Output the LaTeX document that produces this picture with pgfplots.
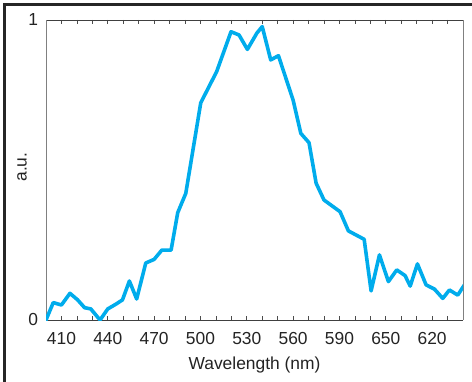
\documentclass[border=0pt]{standalone}
\usepackage{pgfplots}
\pgfplotsset{compat=1.18}
\usepackage{fontspec}
\setmainfont{Liberation Sans}
\definecolor{specblue}{RGB}{0,172,236}
\definecolor{axgray}{RGB}{128,128,128}
\definecolor{txt}{RGB}{35,35,35}
\begin{document}
\begin{tikzpicture}
\fontsize{17.4bp}{20bp}\selectfont
\begin{axis}[
  at={(0,0)}, anchor=origin,
  scale only axis, width=417bp, height=300bp,
  xmin=400, xmax=670, ymin=0, ymax=1,
  separate axis lines,
  x axis line style={draw=black!75, line width=0.9bp},
  y axis line style={draw=axgray, line width=0.9bp},
  xtick={410,420,...,660},
  xticklabels={410,,,440,,,470,,,500,,,530,,,560,,,590,,,650,,,620,,},
  xtick pos=both,
  xtick style={draw=black!70, line width=0.7bp},
  major tick length=4bp,
  ytick={0,1}, yticklabels={0,1},
  ytick style={draw=none},
  /pgf/number format/assume math mode=true,
  tick label style={font=\fontsize{17.4bp}{20bp}\selectfont, text=txt},
  xticklabel style={anchor=center, yshift=-19bp},
  yticklabel style={anchor=east, xshift=-2bp},
  xlabel={Wavelength (nm)},
  ylabel={a.u.},
  label style={font=\fontsize{17.4bp}{20bp}\selectfont, text=txt},
  xlabel style={at={(axis description cs:0.5,-0.15)}, anchor=center},
  ylabel style={at={(axis description cs:-0.0576,0.51)}, anchor=center},
  clip=true,
]
\addplot[specblue, line width=3.6bp, line join=round, line cap=round] coordinates {
(400,0.0) (404.7,0.058) (410,0.05) (415.5,0.089) (420.5,0.067) (425,0.041)
(429,0.037) (435,0.0) (440,0.037) (445,0.052) (449.5,0.067) (454,0.13)
(458.7,0.07) (464.6,0.19) (470,0.202) (475,0.233) (481,0.233) (485.3,0.358)
(490.5,0.422) (500.2,0.724) (510.5,0.828) (519.8,0.961) (525,0.95) (530.4,0.902)
(536.5,0.956) (540,0.978) (545.5,0.867) (550.5,0.881) (560,0.733) (565,0.622)
(570.3,0.591) (574.9,0.456) (580,0.40) (590.4,0.361) (595.8,0.297) (606,0.269)
(610.5,0.097) (615.9,0.217) (621.7,0.128) (627.1,0.167) (632.5,0.148) (635.8,0.113)
(640.5,0.187) (646.1,0.117) (651.5,0.103) (656.9,0.072) (661.2,0.10) (666.6,0.083)
(670.9,0.117)
};
\end{axis}
\useasboundingbox (-46bp,-62bp) rectangle (426bp,320bp);
\draw[black!85, line width=2.2bp] (-41.5bp,-62bp) -- (-41.5bp,315.5bp) -- (426bp,315.5bp);
\end{tikzpicture}
\end{document}
